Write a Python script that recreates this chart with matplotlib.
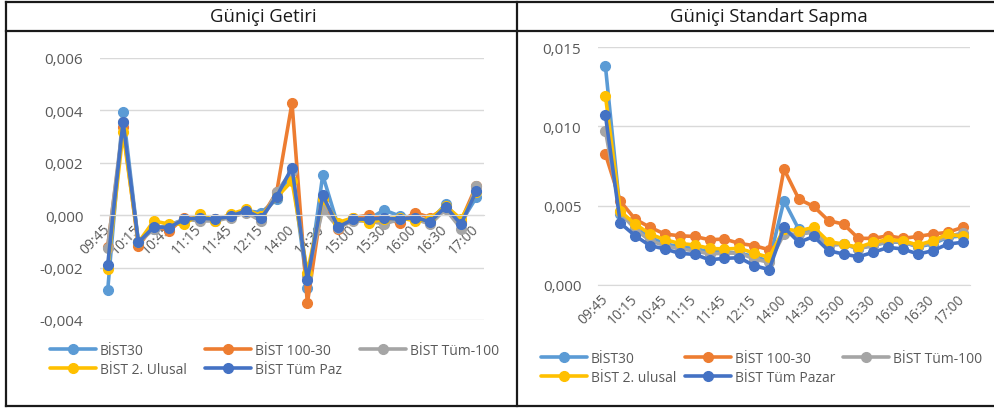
import matplotlib
matplotlib.use("Agg")
from matplotlib import pyplot as plt
from matplotlib.lines import Line2D
from matplotlib.ticker import FuncFormatter

plt.rcParams['font.family'] = ['Open Sans', 'DejaVu Sans']

# 15 dakikalik dilimler (ogle arasi 12:30 - 14:00 yok)
saatler = ["09:45", "10:00", "10:15", "10:30", "10:45", "11:00", "11:15", "11:30",
           "11:45", "12:00", "12:15", "12:30", "14:00", "14:15", "14:30", "14:45",
           "15:00", "15:15", "15:30", "15:45", "16:00", "16:15", "16:30", "16:45", "17:00"]

seriler = ["BİST30", "BİST 100-30", "BİST Tüm-100", "BİST 2. Ulusal", "BİST Tüm Paz"]
seriler_sag = ["BİST30", "BİST 100-30", "BİST Tüm-100", "BİST 2. ulusal", "BİST Tüm Pazar"]
renkler = ["#5B9BD5", "#ED7D31", "#A5A5A5", "#FFC000", "#4472C4"]

# Güniçi getiri (x 0.001)
getiri_bist30 = [-2.87, 3.95, -1.02, -0.51, -0.38, -0.15, -0.11, -0.15, -0.04, 0.17, 0.10, 0.61, 1.69,
                 -2.76, 1.53, -0.41, -0.15, -0.15, 0.20, -0.03, -0.09, -0.22, 0.42, -0.28, 0.68]
getiri_100_30 = [-1.20, 3.35, -1.17, -0.40, -0.60, -0.09, -0.15, -0.15, 0.00, 0.17, -0.09, 0.87, 4.28,
                 -3.36, 0.61, -0.53, -0.09, 0.00, -0.15, -0.28, 0.10, -0.09, 0.29, -0.22, 1.12]
getiri_tum100 = [-1.24, 3.54, -1.04, -0.53, -0.41, -0.15, -0.22, -0.22, -0.09, 0.10, -0.22, 0.89, 1.69,
                 -2.32, 0.23, -0.47, -0.22, -0.22, -0.34, -0.15, -0.15, -0.34, 0.23, -0.51, 1.12]
getiri_ulusal = [-2.04, 3.16, -1.04, -0.22, -0.34, -0.34, 0.06, -0.22, 0.04, 0.23, -0.03, 0.68, 1.31,
                 -2.19, 0.61, -0.28, -0.09, -0.28, -0.15, -0.09, -0.22, -0.15, 0.36, -0.15, 0.87]
getiri_tumpaz = [-1.90, 3.57, -1.04, -0.45, -0.47, -0.15, -0.11, -0.15, -0.04, 0.17, -0.10, 0.71, 1.82,
                 -2.48, 0.76, -0.45, -0.15, -0.15, -0.11, -0.15, -0.09, -0.25, 0.32, -0.34, 0.92]

# Güniçi standart sapma (x 0.001)
ss_bist30 = [13.78, 4.5, 3.6, 3.0, 2.6, 2.4, 2.3, 2.1, 2.1, 2.0, 1.8, 1.5, 5.31,
             3.5, 3.3, 2.6, 2.6, 2.3, 2.5, 2.7, 2.7, 2.4, 2.6, 3.0, 3.1]
ss_100_30 = [8.25, 5.27, 4.15, 3.63, 3.21, 3.10, 3.06, 2.85, 2.90, 2.62, 2.48, 2.22, 7.30,
             5.41, 4.95, 4.05, 3.84, 2.94, 2.94, 3.10, 2.94, 3.06, 3.21, 3.32, 3.63]
ss_tum100 = [9.71, 4.57, 3.52, 2.79, 2.48, 2.27, 2.16, 1.95, 2.01, 2.01, 1.64, 1.43, 3.21,
             3.21, 3.32, 2.48, 2.58, 2.27, 2.52, 2.73, 2.73, 2.43, 2.69, 3.06, 3.27]
ss_ulusal = [11.92, 4.64, 3.84, 3.21, 2.85, 2.62, 2.52, 2.31, 2.27, 2.31, 2.01, 1.74, 3.52,
             3.42, 3.63, 2.73, 2.58, 2.37, 2.69, 2.85, 2.79, 2.52, 2.79, 3.21, 3.06]
ss_tumpaz = [10.70, 3.90, 3.10, 2.48, 2.27, 1.99, 1.93, 1.59, 1.68, 1.72, 1.22, 0.97, 3.63,
             2.69, 3.06, 2.16, 1.95, 1.78, 2.06, 2.37, 2.27, 1.95, 2.16, 2.58, 2.69]

getiri = [getiri_bist30, getiri_100_30, getiri_tum100, getiri_ulusal, getiri_tumpaz]
sapma = [ss_bist30, ss_100_30, ss_tum100, ss_ulusal, ss_tumpaz]

W, H = 995, 410
fig = plt.figure(figsize=(W / 100, H / 100), dpi=100)
gri = "#595959"
izgara = "#D9D9D9"


def kutu(x0, y0, x1, y1):
    # piksel -> figure koordinati (ust sol orijin)
    return [x0 / W, 1 - y1 / H, (x1 - x0) / W, (y1 - y0) / H]


def virgul(v, pos):
    return f"{v:.3f}".replace(".", ",")


def ciz(ax, veri, etiketler, carpan=0.001):
    x = list(range(len(saatler)))
    for seri, ad, renk in zip(veri, etiketler, renkler):
        ax.plot(x, [v * carpan for v in seri], color=renk, lw=2.6, marker="o",
                markersize=7, label=ad, solid_capstyle="round")
    ax.set_xlim(-0.5, len(saatler) - 0.5)
    ax.set_xticks(x[::2])
    ax.set_xticklabels(saatler[::2], rotation=45, ha="right", va="center",
                       rotation_mode="anchor", color=gri, fontsize=10)
    ax.yaxis.set_major_formatter(FuncFormatter(virgul))
    ax.tick_params(axis="y", length=0, labelsize=11, labelcolor=gri, pad=12)
    ax.tick_params(axis="x", length=0, pad=8)
    ax.grid(axis="y", color=izgara, lw=1)
    ax.set_axisbelow(True)
    for s in ["top", "right", "left"]:
        ax.spines[s].set_visible(False)
    ax.spines["bottom"].set_color(izgara)


def lejant(ax, x0, y0, aralik):
    # Excel satir satir dolduruyor, matplotlib sutun sutun
    h, l = ax.get_legend_handles_labels()
    sira = [0, 3, 1, 4, 2]
    ax.legend([h[i] for i in sira], [l[i] for i in sira], ncol=3, loc="upper left",
              bbox_to_anchor=(x0 / W, 1 - y0 / H), bbox_transform=fig.transFigure,
              frameon=False, fontsize=10, labelcolor=gri, handlelength=3.3,
              handletextpad=0.3, columnspacing=aralik, labelspacing=0.3,
              borderpad=0, borderaxespad=0)


# sol: güniçi getiri
ax1 = fig.add_axes(kutu(100, 59, 484, 321))
ax1.spines["bottom"].set_position(("data", 0))
ciz(ax1, getiri, seriler)
ax1.set_ylim(-0.004, 0.006)
ax1.set_yticks([-0.004, -0.002, 0, 0.002, 0.004, 0.006])
lejant(ax1, 50, 344, 1.3)

# sag: güniçi standart sapma
ax2 = fig.add_axes(kutu(598, 48, 970, 286))
ciz(ax2, sapma, seriler_sag)
ax2.set_ylim(0, 0.015)
ax2.set_yticks([0, 0.005, 0.010, 0.015])
lejant(ax2, 541, 352, 0.6)

# tablo cercevesi ve basliklar
for (x0, y0, x1, y1) in [(6, 3, 995, 3), (6, 32, 995, 32), (6, 407, 995, 407),
                         (6, 3, 6, 407), (517, 3, 517, 407)]:
    fig.add_artist(Line2D([x0 / W, x1 / W], [1 - y0 / H, 1 - y1 / H],
                          transform=fig.transFigure, color="#1a1a1a", lw=1.6))
fig.text(263 / W, 1 - 17 / H, "Güniçi Getiri", ha="center", va="center",
         fontsize=13.3, color="#1a1a1a")
fig.text(769 / W, 1 - 17 / H, "Güniçi Standart Sapma", ha="center", va="center",
         fontsize=13.3, color="#1a1a1a")

fig.savefig("out.png", dpi=100)
